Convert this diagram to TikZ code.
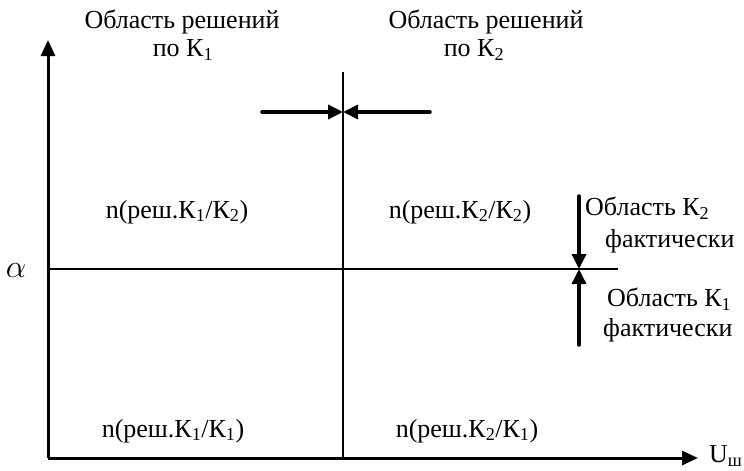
\documentclass[tikz,border=0pt]{standalone}
\usepackage{fontspec}
\usepackage{graphicx}
\IfFontExistsTF{LiberationSerif-Regular.ttf}
  {\setmainfont{LiberationSerif-Regular.ttf}[BoldFont=LiberationSerif-Bold.ttf]}
  {\setmainfont{Liberation Serif}}
\usetikzlibrary{arrows.meta}
\begin{document}
\begin{tikzpicture}[x=1pt,y=-1pt,
  lbl/.style={font=\fontsize{26}{29}\selectfont, inner sep=0pt, align=center},
  axis/.style={line width=3pt, -{Triangle[length=16pt,width=14pt]}},
  thin/.style={line width=1.5pt},
  marker/.style={line width=3.5pt, line cap=round, -{Triangle[length=15pt,width=14pt]}}]
\useasboundingbox (0,0) rectangle (744,471);
% axes
\coordinate (O) at (48,458);
\coordinate (ytop) at (48,40);
\coordinate (xend) at (698,458);
\draw[axis] (O) -- (ytop);
\draw[axis] (O) -- (xend);
\node[lbl, anchor=west] (U) at (709,456) {U\textsubscript{ш}};
\node[lbl] (alpha) at (16,271) {\scalebox{1.3}{$\alpha$}};
% grid lines
\coordinate (vtop) at (343,72);
\coordinate (vbot) at (343,458);
\draw[thin] (vtop) -- (vbot);
\coordinate (hl) at (48,269);
\coordinate (hr) at (618,269);
\draw[thin] (hl) -- (hr);
% top arrows
\coordinate (tl) at (262,112);
\coordinate (tr) at (430,112);
\coordinate (tm) at (343,112);
\draw[marker] (tl) -- (tm);
\draw[marker] (tr) -- (tm);
% right arrows
\coordinate (rt) at (579,196);
\coordinate (rb) at (579,345);
\coordinate (rm) at (579,269);
\draw[marker] (rt) -- (rm);
\draw[marker] (rb) -- (rm);
% texts
\node[lbl] (r1a) at (182,22) {Область решений};
\node[lbl] (r1b) at (183,50) {по К\textsubscript{1}};
\node[lbl] (r2a) at (486,22) {Область решений};
\node[lbl] (r2b) at (474,50) {по К\textsubscript{2}};
\node[lbl] (n12) at (177,212) {n(реш.К\textsubscript{1}/К\textsubscript{2})};
\node[lbl] (n22) at (460,212) {n(реш.К\textsubscript{2}/К\textsubscript{2})};
\node[lbl] (n11) at (173,431) {n(реш.К\textsubscript{1}/К\textsubscript{1})};
\node[lbl] (n21) at (467,431) {n(реш.К\textsubscript{2}/К\textsubscript{1})};
\node[lbl, anchor=west] (f2a) at (585,208) {Область К\textsubscript{2}};
\node[lbl, anchor=west] (f2b) at (605,241) {фактически};
\node[lbl, anchor=west] (f1a) at (607,299) {Область К\textsubscript{1}};
\node[lbl, anchor=west] (f1b) at (603,330) {фактически};
\end{tikzpicture}
\end{document}
